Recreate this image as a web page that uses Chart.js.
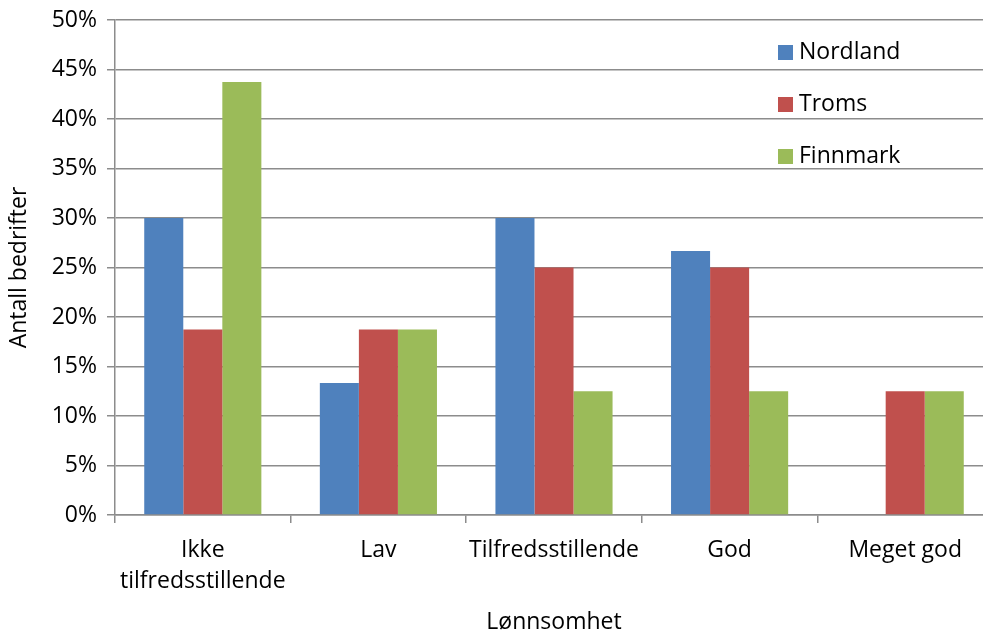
<!DOCTYPE html>
<html>
<head>
<meta charset="utf-8">
<script src="https://cdn.jsdelivr.net/npm/chart.js@4"></script>
<style>
    html, body { margin: 0; padding: 0; background: #fff; overflow: hidden; }
    #wrap { width: 995px; height: 634px; }
</style>
</head>
<body>
<div id="wrap"><canvas id="chart"></canvas></div>
<script>
// Chart data
const categories = [['Ikke', 'tilfredsstillende'], 'Lav', 'Tilfredsstillende', 'God', 'Meget god'];
const seriesNames = ['Nordland', 'Troms', 'Finnmark'];
const nordland = [30, 13.33, 30, 26.67, 0];
const troms = [18.75, 18.75, 25, 25, 12.5];
const finnmark = [43.75, 18.75, 12.5, 12.5, 12.5];
const seriesColors = ['#4F81BD', '#C0504D', '#9BBB59'];
const yTicks = [0, 5, 10, 15, 20, 25, 30, 35, 40, 45, 50];

const FONT = '"Open Sans", Lato, sans-serif';
const TEXT = '#000000';
const LINE = '#8c8c8c';

// Legend drawn inside the plot area, top right
const insideLegend = {
    id: 'insideLegend',
    afterDraw(chart) {
        const ctx = chart.ctx;
        ctx.save();
        ctx.font = '23px ' + FONT;
        ctx.textBaseline = 'middle';
        ctx.textAlign = 'left';
        chart.data.datasets.forEach((ds, i) => {
            const y = 52 + i * 52;
            ctx.fillStyle = ds.backgroundColor;
            ctx.fillRect(778, y - 7, 15, 15);
            ctx.fillStyle = TEXT;
            ctx.fillText(ds.label, 799, y);
        });
        ctx.restore();
    }
};

const ctx = document.getElementById('chart').getContext('2d');
const data = [nordland, troms, finnmark];

new Chart(ctx, {
    type: 'bar',
    data: {
        labels: categories,
        datasets: seriesNames.map((name, i) => ({
            label: name,
            data: data[i],
            backgroundColor: seriesColors[i],
            borderWidth: 0,
            categoryPercentage: 0.667,
            barPercentage: 1.0
        }))
    },
    options: {
        responsive: true,
        maintainAspectRatio: false,
        animation: false,
        layout: { padding: { top: 20, right: 2, left: 0, bottom: 0 } },
        plugins: {
            legend: { display: false },
            tooltip: { enabled: false }
        },
        scales: {
            x: {
                grid: {
                    offset: true,
                    drawOnChartArea: false,
                    drawTicks: true,
                    tickLength: 8,
                    color: LINE,
                    lineWidth: 1.5
                },
                border: { color: LINE, width: 1.5 },
                ticks: {
                    color: TEXT,
                    font: { family: FONT, size: 23, lineHeight: 1.35 },
                    padding: 12,
                    maxRotation: 0,
                    autoSkip: false
                },
                title: {
                    display: true,
                    text: 'Lønnsomhet',
                    color: TEXT,
                    font: { family: FONT, size: 23, lineHeight: 1 },
                    padding: { top: 10, bottom: 0 }
                },
                afterFit(scale) { scale.height = 119; }
            },
            y: {
                min: 0,
                max: 50,
                afterBuildTicks(scale) {
                    scale.ticks = yTicks.map(v => ({ value: v }));
                },
                grid: {
                    color: LINE,
                    lineWidth: 1.5,
                    tickLength: 8
                },
                border: { color: LINE, width: 1.5 },
                ticks: {
                    color: TEXT,
                    font: { family: FONT, size: 23 },
                    padding: 10,
                    callback: v => v + '%'
                },
                title: {
                    display: true,
                    text: 'Antall bedrifter',
                    color: TEXT,
                    font: { family: FONT, size: 23 },
                    padding: { top: 6, bottom: 4 }
                },
                afterFit(scale) {
                    scale.width = 115;
                    scale.paddingTop = 0;
                    scale.paddingBottom = 0;
                }
            }
        }
    },
    plugins: [insideLegend]
});
</script>
</body>
</html>
